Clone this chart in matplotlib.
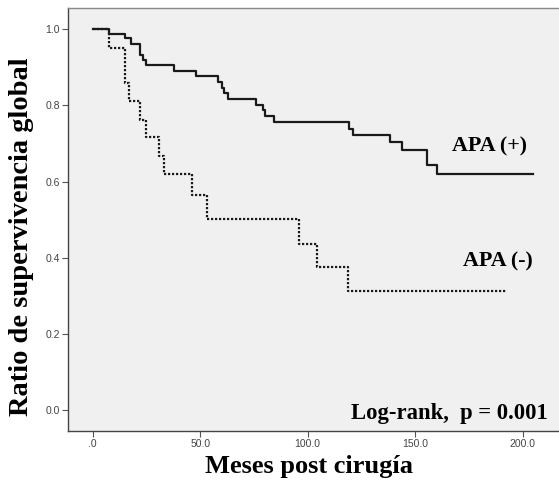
import matplotlib
matplotlib.use("Agg")
import matplotlib.pyplot as plt

# survival curves (months, survival ratio)
apa_pos_t = [0, 7.6, 15.0, 17.9, 21.9, 23.5, 24.8, 38.0, 48.0, 58.1, 60.0, 61.2, 63.1,
             76.0, 79.1, 80.1, 84.3, 119.2, 120.9, 138.3, 144.0, 155.3, 160.0, 204.8]
apa_pos_s = [1.0, 0.987, 0.976, 0.961, 0.932, 0.919, 0.906, 0.891, 0.877, 0.862, 0.847, 0.833, 0.817,
             0.802, 0.787, 0.772, 0.757, 0.739, 0.723, 0.703, 0.684, 0.643, 0.619, 0.619]

apa_neg_t = [0, 7.6, 15.0, 16.9, 22.1, 24.9, 30.8, 33.2, 46.0, 53.0, 96.0, 104.2, 118.9, 192.6]
apa_neg_s = [1.0, 0.952, 0.859, 0.811, 0.763, 0.716, 0.667, 0.619, 0.564, 0.501, 0.437, 0.376, 0.312, 0.312]

x_ticks = [0, 50, 100, 150, 200]
x_tick_labels = [".0", "50.0", "100.0", "150.0", "200.0"]
y_ticks = [0.0, 0.2, 0.4, 0.6, 0.8, 1.0]
y_tick_labels = ["0.0", "0.2", "0.4", "0.6", "0.8", "1.0"]

serif = ["Liberation Serif", "DejaVu Serif"]

fig = plt.figure(figsize=(5.59, 4.84), dpi=100)
ax = fig.add_axes([68 / 559, 53 / 484, 491 / 559, 423 / 484])
ax.set_facecolor("#f0f0f0")

ax.plot(apa_pos_t, apa_pos_s, drawstyle="steps-post", color="#1a1a1a", lw=1.6)
ax.plot(apa_neg_t, apa_neg_s, drawstyle="steps-post", color="#1a1a1a", lw=1.6,
        linestyle=(0, (1, 0.8)))

ax.set_xlim(-11.5, 216.9)
ax.set_ylim(-0.0552, 1.056)

ax.set_xticks(x_ticks)
ax.set_xticklabels(x_tick_labels)
ax.set_yticks(y_ticks)
ax.set_yticklabels(y_tick_labels)
ax.tick_params(length=4, width=0.8, color="#555555", labelsize=7.5, labelcolor="#444444", pad=2)
for lab in ax.get_xticklabels() + ax.get_yticklabels():
    lab.set_family(["Liberation Sans", "DejaVu Sans"])

ax.spines["right"].set_visible(False)
ax.spines["top"].set_color("#888888")
ax.spines["left"].set_color("#444444")
ax.spines["bottom"].set_color("#444444")
for s in ["left", "bottom", "top"]:
    ax.spines[s].set_linewidth(1.0)

ax.text(167, 0.691, "APA (+)", family=serif, fontweight="bold", fontsize=15.8, va="center", ha="left")
ax.text(172.4, 0.389, "APA (-)", family=serif, fontweight="bold", fontsize=15.8, va="center", ha="left")
ax.text(211.8, -0.008, "Log-rank,  p = 0.001", family=serif, fontweight="bold", fontsize=16.3,
        va="center", ha="right")

fig.text(0.039, 0.51, "Ratio de supervivencia global", family=serif, fontweight="bold",
         fontsize=20.5, rotation=90, va="center", ha="center")
fig.text(0.553, 0.037, "Meses post cirugía", family=serif, fontweight="bold",
         fontsize=19, va="center", ha="center")

fig.savefig("out.png", dpi=100, facecolor="white")
